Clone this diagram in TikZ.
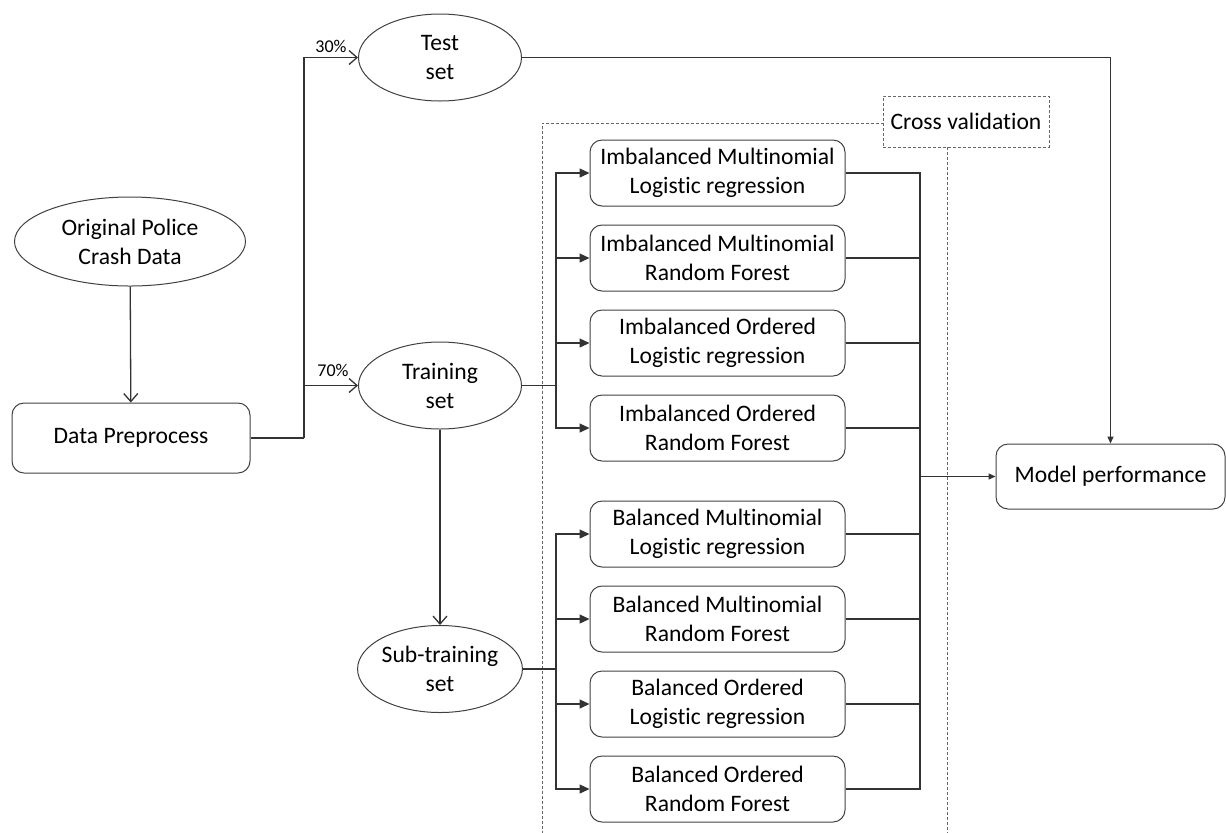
\documentclass[tikz,border=0pt]{standalone}
\usepackage{fontspec}
\setmainfont{Carlito}[Ligatures=NoCommon]
\usetikzlibrary{arrows.meta,shapes.geometric}
\begin{document}
\begin{tikzpicture}[x=0.5pt,y=-0.5pt,
  every node/.style={font=\fontsize{11.8pt}{14.5pt}\selectfont, text=black},
  line/.style={draw=black!80, line width=0.65pt},
  ell/.style={ellipse, draw=black!75, line width=0.5pt, align=center, minimum width=81.5pt, minimum height=43.5pt, inner sep=0pt},
  rbox/.style={rectangle, rounded corners=6pt, draw=black!75, line width=0.5pt, align=center, minimum width=127.5pt, minimum height=33pt, inner sep=0pt},
  openarr/.style={-{Straight Barb[length=4pt,width=7pt]}},
  fillarr/.style={-{Triangle[length=5pt,width=4.5pt]}},
  smallarr/.style={-{Triangle[length=3.5pt,width=3pt]}},
  lbl/.style={font=\fontsize{9pt}{11pt}\selectfont},
  cvline/.style={draw=black!60, line width=0.45pt, dash pattern=on 1.5pt off 1pt}
]
\useasboundingbox (0,0) rectangle (1226,832);

% cross validation frame
\coordinate (cvbl) at (542,834);
\coordinate (cvtl) at (542,123);
\coordinate (cvtr) at (947,123);
\coordinate (cvbr) at (947,834);
\draw[cvline] (cvbl) -- (cvtl) -- (cvtr) -- (cvbr);
\node[cvline, fill=white, minimum width=83pt, minimum height=25.5pt, inner sep=0pt] (cv) at (966,121.5) {Cross validation};

% nodes
\node[ell, minimum width=115.5pt, minimum height=44.5pt] (orig) at (130,241.5) {Original Police\\Crash Data};
\node[rbox, minimum width=119pt, minimum height=35pt] (prep) at (131,438) {Data Preprocess};
\node[ell] (test) at (440,57.5) {Test\\set};
\node[ell] (train) at (440,385.5) {Training\\set};
\node[ell] (sub) at (440,669) {Sub-training\\set};

\node[rbox] (m1) at (717.5,173) {Imbalanced Multinomial\\Logistic regression};
\node[rbox] (m2) at (717.5,258) {Imbalanced Multinomial\\Random Forest};
\node[rbox] (m3) at (717.5,343) {Imbalanced Ordered\\Logistic regression};
\node[rbox] (m4) at (717.5,428) {Imbalanced Ordered\\Random Forest};
\node[rbox] (m5) at (717.5,534) {Balanced Multinomial\\Logistic regression};
\node[rbox] (m6) at (717.5,619) {Balanced Multinomial\\Random Forest};
\node[rbox] (m7) at (717.5,704) {Balanced Ordered\\Logistic regression};
\node[rbox] (m8) at (717.5,789) {Balanced Ordered\\Random Forest};

\node[rbox, minimum width=114.5pt, minimum height=32.5pt] (perf) at (1110.5,476.5) {Model performance};

\node[lbl] (p30) at (331,46) {30\%};
\node[lbl] (p70) at (333,370) {70\%};

% connectors
\coordinate (split) at (304,438);
\coordinate (b1) at (556,385.5);
\coordinate (b2) at (556,669);
\coordinate (bus) at (920,476.5);

\draw[line, openarr] (orig) -- (prep);
\draw[line] (prep.east) -- (split);
\draw[line, openarr] (split) |- (test.west);
\draw[line, openarr] (split) |- (train.west);
\draw[line, openarr] (train) -- (sub);
\draw[line, smallarr] (test.east) -| (perf.north);

\draw[line] (train.east) -- (b1);
\draw[line] (sub.east) -- (b2);
\foreach \m in {m1,m2,m3,m4} \draw[line, fillarr] (b1) |- (\m.west);
\foreach \m in {m5,m6,m7,m8} \draw[line, fillarr] (b2) |- (\m.west);
\foreach \m in {m1,m2,m3,m4,m5,m6,m7,m8} \draw[line] (\m.east) -| (bus);
\draw[line, smallarr] (bus) -- (perf.west);
\end{tikzpicture}
\end{document}
